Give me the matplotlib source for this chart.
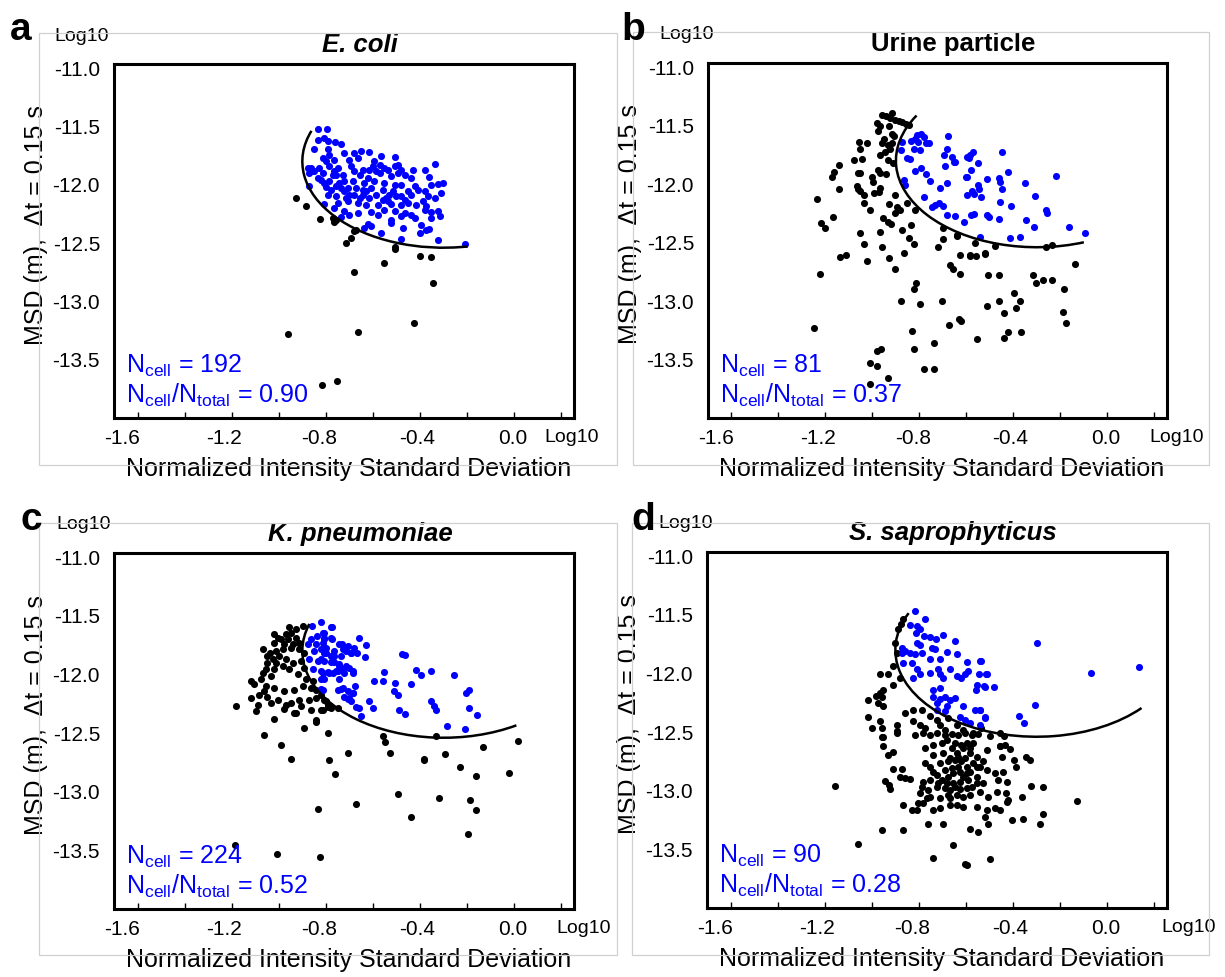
import numpy as np
import matplotlib
matplotlib.use("Agg")
import matplotlib.pyplot as plt
from matplotlib.patches import Arc, Rectangle

plt.rcParams['font.family'] = ['Liberation Sans', 'DejaVu Sans']
plt.rcParams['axes.unicode_minus'] = False
plt.rcParams['mathtext.fontset'] = 'custom'
plt.rcParams['mathtext.rm'] = 'Liberation Sans'

# ---- data: (log10 norm. intensity SD, log10 MSD) ----
A_BLUE = [
    (-0.832, -11.520), (-0.795, -11.520), (-0.835, -11.615), (-0.806, -11.600), (-0.792, -11.629),
    (-0.761, -11.635), (-0.735, -11.652), (-0.849, -11.692), (-0.792, -11.692), (-0.785, -11.743),
    (-0.721, -11.729), (-0.679, -11.729), (-0.650, -11.709), (-0.615, -11.720), (-0.813, -11.772),
    (-0.799, -11.800), (-0.764, -11.786), (-0.700, -11.786), (-0.664, -11.772), (-0.565, -11.757),
    (-0.508, -11.766), (-0.863, -11.857), (-0.828, -11.857), (-0.785, -11.843), (-0.750, -11.857),
    (-0.693, -11.843), (-0.679, -11.886), (-0.643, -11.872), (-0.586, -11.886), (-0.537, -11.872),
    (-0.494, -11.829), (-0.480, -11.872), (-0.430, -11.872), (-0.381, -11.872), (-0.338, -11.823),
    (-0.870, -11.900), (-0.813, -11.900), (-0.771, -11.915), (-0.728, -11.915), (-0.657, -11.915),
    (-0.622, -11.943), (-0.572, -11.900), (-0.523, -11.929), (-0.438, -11.943), (-0.360, -11.937),
    (-0.821, -11.957), (-0.785, -11.972), (-0.721, -11.972), (-0.686, -11.972), (-0.636, -11.986),
    (-0.594, -11.972), (-0.551, -11.986), (-0.508, -12.000), (-0.480, -12.000), (-0.423, -12.015),
    (-0.324, -11.995), (-0.303, -11.986), (-0.870, -12.015), (-0.799, -12.023), (-0.757, -12.015),
    (-0.707, -12.029), (-0.672, -12.029), (-0.608, -12.029), (-0.558, -12.043), (-0.516, -12.057),
    (-0.452, -12.057), (-0.381, -12.057), (-0.310, -12.072), (-0.792, -12.086), (-0.757, -12.100),
    (-0.714, -12.115), (-0.679, -12.086), (-0.643, -12.086), (-0.586, -12.086), (-0.544, -12.115),
    (-0.480, -12.100), (-0.438, -12.086), (-0.806, -12.166), (-0.750, -12.157), (-0.707, -12.143),
    (-0.664, -12.157), (-0.629, -12.172), (-0.579, -12.172), (-0.523, -12.166), (-0.480, -12.172),
    (-0.452, -12.157), (-0.388, -12.143), (-0.374, -12.186), (-0.764, -12.200), (-0.721, -12.223),
    (-0.664, -12.243), (-0.608, -12.235), (-0.551, -12.215), (-0.508, -12.229), (-0.466, -12.243),
    (-0.438, -12.257), (-0.381, -12.215), (-0.324, -12.229), (-0.352, -12.235), (-0.735, -12.280),
    (-0.700, -12.263), (-0.579, -12.257), (-0.523, -12.300), (-0.480, -12.272), (-0.423, -12.286),
    (-0.352, -12.286), (-0.317, -12.272), (-0.622, -12.337), (-0.608, -12.357), (-0.523, -12.329),
    (-0.473, -12.372), (-0.395, -12.343), (-0.374, -12.386), (-0.360, -12.377), (-0.636, -12.372),
    (-0.565, -12.415), (-0.402, -12.415), (-0.480, -12.463), (-0.324, -12.472), (-0.208, -12.506),
    (-0.874, -11.857), (-0.863, -11.886), (-0.764, -11.886), (-0.757, -11.915), (-0.594, -11.800),
    (-0.572, -11.829), (-0.551, -11.857), (-0.494, -11.900), (-0.466, -11.915), (-0.643, -12.043),
    (-0.629, -12.057), (-0.558, -12.129), (-0.537, -12.143), (-0.466, -12.129), (-0.416, -12.172),
    (-0.735, -12.029), (-0.721, -12.057), (-0.849, -11.886), (-0.835, -11.943), (-0.806, -11.986),
    (-0.743, -11.986), (-0.778, -12.043), (-0.700, -12.086), (-0.657, -12.115), (-0.615, -12.115),
    (-0.530, -12.086), (-0.501, -12.100), (-0.367, -12.100), (-0.338, -12.115), (-0.409, -12.043),
    (-0.352, -12.000), (-0.508, -11.843), (-0.601, -11.843), (-0.615, -11.872),
]
A_BLACK = [
    (-0.926, -12.114), (-0.885, -12.180), (-0.827, -12.290), (-0.771, -12.286), (-0.766, -12.320),
    (-0.755, -12.300), (-0.714, -12.500), (-0.693, -12.460), (-0.682, -12.400), (-0.673, -12.386),
    (-0.680, -12.750), (-0.554, -12.670), (-0.505, -12.530), (-0.505, -12.550), (-0.399, -12.610),
    (-0.355, -12.620), (-0.347, -12.846), (-0.425, -13.186), (-0.665, -13.263), (-0.962, -13.277),
    (-0.815, -13.714), (-0.752, -13.686),
]

B_BLUE = [
    (-0.810, -11.582), (-0.793, -11.574), (-0.779, -11.597), (-0.817, -11.619), (-0.836, -11.631),
    (-0.807, -11.639), (-0.771, -11.648), (-0.761, -11.653), (-0.822, -11.696), (-0.799, -11.710),
    (-0.874, -11.639), (-0.877, -11.710), (-0.853, -11.773), (-0.841, -11.790), (-0.817, -11.886),
    (-0.793, -11.866), (-0.771, -11.915), (-0.756, -11.974), (-0.782, -12.108), (-0.711, -12.037),
    (-0.683, -11.989), (-0.694, -11.753), (-0.683, -11.696), (-0.662, -11.767), (-0.652, -11.810),
    (-0.690, -11.847), (-0.679, -11.588), (-0.598, -11.767), (-0.598, -11.943), (-0.598, -12.094),
    (-0.867, -11.966), (-0.860, -12.008), (-0.747, -12.193), (-0.732, -12.182), (-0.718, -12.159),
    (-0.700, -12.187), (-0.683, -12.264), (-0.647, -12.273), (-0.612, -12.321), (-0.647, -11.810),
    (-0.583, -11.753), (-0.572, -11.725), (-0.590, -11.781), (-0.550, -11.818), (-0.580, -11.881),
    (-0.600, -11.943), (-0.447, -11.730), (-0.424, -11.895), (-0.512, -11.960), (-0.463, -11.952),
    (-0.458, -11.980), (-0.550, -12.009), (-0.546, -12.046), (-0.576, -12.057), (-0.566, -12.085),
    (-0.538, -12.108), (-0.448, -12.046), (-0.456, -12.151), (-0.409, -12.188), (-0.351, -11.995),
    (-0.308, -12.103), (-0.218, -11.932), (-0.260, -12.222), (-0.257, -12.250), (-0.580, -12.264),
    (-0.566, -12.256), (-0.512, -12.264), (-0.505, -12.284), (-0.463, -12.301), (-0.347, -12.307),
    (-0.314, -12.364), (-0.165, -12.364), (-0.094, -12.421), (-0.413, -12.458), (-0.371, -12.449),
    (-0.543, -12.455),
]
B_BLACK = [
    (-0.959, -11.412), (-0.941, -11.420), (-0.916, -11.392), (-0.924, -11.432), (-0.902, -11.449),
    (-0.888, -11.460), (-0.874, -11.469), (-0.856, -11.483), (-0.846, -11.497), (-0.980, -11.477),
    (-0.966, -11.506), (-0.931, -11.506), (-0.977, -11.545), (-0.916, -11.568), (-0.909, -11.591),
    (-0.952, -11.619), (-0.959, -11.648), (-0.935, -11.668), (-0.916, -11.653), (-0.924, -11.704),
    (-0.945, -11.724), (-0.966, -11.753), (-0.935, -11.795), (-0.912, -11.818), (-1.058, -11.639),
    (-1.023, -11.648), (-1.054, -11.696), (-1.077, -11.795), (-1.044, -11.790), (-1.143, -11.838),
    (-1.164, -11.895), (-1.171, -11.937), (-1.051, -11.903), (-1.062, -11.909), (-0.977, -11.881),
    (-0.966, -11.903), (-0.941, -11.915), (-1.001, -11.943), (-0.997, -11.980), (-1.065, -12.017),
    (-1.062, -12.045), (-1.051, -12.057), (-0.966, -12.037), (-0.973, -12.065), (-0.992, -12.074),
    (-1.143, -12.045), (-1.037, -12.094), (-0.902, -12.094), (-1.235, -12.131), (-1.037, -12.159),
    (-1.009, -12.222), (-0.931, -12.170), (-0.895, -12.193), (-0.884, -12.222), (-0.902, -12.250),
    (-0.853, -12.165), (-0.817, -12.222), (-1.167, -12.284), (-1.221, -12.335), (-1.204, -12.378),
    (-0.955, -12.293), (-0.935, -12.321), (-0.921, -12.341), (-1.051, -12.420), (-0.969, -12.406),
    (-0.874, -12.392), (-0.834, -12.349), (-0.846, -12.463), (-1.037, -12.511), (-0.959, -12.534),
    (-0.824, -12.511), (-0.722, -12.534), (-0.700, -12.472), (-0.640, -12.435), (-1.136, -12.625),
    (-1.111, -12.605), (-1.023, -12.662), (-0.931, -12.633), (-0.867, -12.591), (-0.669, -12.690),
    (-0.626, -12.605), (-0.584, -12.605), (-0.698, -12.378), (-1.224, -12.767), (-1.247, -13.230),
    (-0.878, -12.997), (-0.824, -12.898), (-0.813, -12.847), (-0.796, -13.023), (-0.833, -13.259),
    (-0.824, -13.406), (-0.779, -13.580), (-0.740, -13.580), (-0.740, -13.358), (-0.702, -13.003),
    (-0.673, -13.202), (-0.631, -13.150), (-0.623, -13.173), (-0.656, -12.727), (-0.628, -12.767),
    (-0.556, -13.321), (-0.514, -13.040), (-0.509, -12.781), (-0.463, -12.781), (-0.463, -12.997),
    (-0.438, -13.102), (-0.438, -13.315), (-0.425, -13.264), (-0.396, -12.932), (-0.388, -13.060),
    (-0.371, -12.997), (-0.366, -13.264), (-0.317, -12.776), (-0.304, -12.847), (-0.274, -12.818),
    (-0.237, -12.818), (-0.186, -12.898), (-0.189, -13.097), (-0.178, -13.188), (-0.139, -12.685),
    (-0.979, -13.429), (-0.962, -13.409), (-1.009, -13.528), (-0.979, -13.557), (-1.012, -13.713),
    (-0.933, -13.662), (-0.903, -12.727), (-0.559, -12.611), (-0.522, -12.591), (-0.480, -12.528),
    (-0.642, -12.443), (-0.562, -12.506), (-0.583, -12.614), (-0.519, -12.597), (-0.262, -12.534),
    (-0.237, -12.520),
]

C_BLUE = [
    (-0.821, -11.552), (-0.860, -11.586), (-0.778, -11.592), (-0.806, -11.643), (-0.838, -11.672),
    (-0.863, -11.700), (-0.877, -11.743), (-0.842, -11.743), (-0.806, -11.700), (-0.778, -11.686),
    (-0.743, -11.743), (-0.721, -11.786), (-0.693, -11.815), (-0.852, -11.800), (-0.821, -11.786),
    (-0.799, -11.815), (-0.764, -11.843), (-0.736, -11.843), (-0.870, -11.872), (-0.835, -11.886),
    (-0.806, -11.886), (-0.778, -11.895), (-0.743, -11.915), (-0.714, -11.929), (-0.856, -11.958),
    (-0.821, -11.972), (-0.785, -11.986), (-0.750, -11.972), (-0.721, -11.986), (-0.686, -11.986),
    (-0.806, -12.043), (-0.743, -12.043), (-0.821, -12.123), (-0.736, -12.123), (-0.707, -12.143),
    (-0.700, -12.200), (-0.686, -12.158), (-0.814, -11.643), (-0.774, -11.600), (-0.807, -11.686),
    (-0.814, -11.729), (-0.774, -11.700), (-0.800, -11.772), (-0.807, -11.815), (-0.821, -11.872),
    (-0.778, -11.843), (-0.764, -11.800), (-0.732, -11.743), (-0.729, -11.780), (-0.715, -11.800),
    (-0.707, -11.758), (-0.693, -11.815), (-0.679, -11.772), (-0.669, -11.815), (-0.661, -11.686),
    (-0.629, -11.752), (-0.632, -11.849), (-0.764, -11.895), (-0.743, -11.929), (-0.729, -11.958),
    (-0.757, -11.972), (-0.771, -11.986), (-0.793, -11.980), (-0.814, -11.986), (-0.821, -12.043),
    (-0.700, -11.943), (-0.686, -11.972), (-0.811, -12.135), (-0.750, -12.129), (-0.729, -12.115),
    (-0.722, -12.192), (-0.707, -12.209), (-0.693, -12.229), (-0.683, -12.158), (-0.675, -12.100),
    (-0.672, -12.278), (-0.658, -12.286), (-0.651, -12.358), (-0.618, -12.229), (-0.598, -12.286),
    (-0.594, -12.058), (-0.551, -11.980), (-0.556, -12.052), (-0.505, -12.072), (-0.509, -12.143),
    (-0.495, -12.172), (-0.488, -12.306), (-0.466, -12.335), (-0.476, -11.829), (-0.462, -11.838),
    (-0.438, -12.086), (-0.417, -11.963), (-0.398, -12.009), (-0.353, -11.972), (-0.353, -12.229),
    (-0.339, -12.266), (-0.332, -12.306), (-0.256, -12.009), (-0.204, -12.158), (-0.193, -12.135),
    (-0.193, -12.286), (-0.158, -12.343), (-0.286, -12.443), (-0.211, -12.466),
]
C_BLACK = [
    (-0.899, -11.586), (-0.927, -11.615), (-0.955, -11.600), (-0.948, -11.643), (-0.970, -11.658),
    (-1.019, -11.658), (-0.991, -11.700), (-0.962, -11.700), (-0.927, -11.686), (-0.913, -11.729),
    (-1.022, -11.729), (-1.065, -11.786), (-1.036, -11.815), (-1.012, -11.800), (-0.984, -11.786),
    (-0.948, -11.772), (-0.913, -11.786), (-0.892, -11.815), (-0.998, -11.843), (-0.970, -11.872),
    (-1.026, -11.872), (-1.048, -11.900), (-1.055, -11.958), (-1.019, -11.958), (-0.984, -11.929),
    (-0.941, -11.900), (-0.906, -11.886), (-0.892, -11.943), (-1.119, -12.058), (-1.104, -12.086),
    (-1.076, -12.043), (-1.055, -12.100), (-1.062, -12.143), (-1.019, -12.115), (-0.977, -12.143),
    (-0.934, -12.129), (-0.899, -12.100), (-0.863, -12.115), (-0.842, -12.129), (-0.842, -12.200),
    (-1.119, -12.200), (-1.090, -12.258), (-1.048, -12.192), (-1.005, -12.220), (-0.970, -12.258),
    (-0.977, -12.295), (-0.913, -12.215), (-0.906, -12.266), (-0.927, -12.329), (-0.863, -12.300),
    (-0.821, -12.300), (-0.792, -12.278), (-0.799, -12.229), (-1.182, -12.272), (-1.097, -12.315),
    (-1.019, -12.380), (-0.934, -12.329), (-0.892, -12.458), (-0.842, -12.386), (-0.792, -12.500),
    (-1.062, -12.515), (-0.991, -12.600), (-0.948, -12.723), (-0.785, -12.729), (-0.704, -12.666),
    (-0.821, -12.172), (-0.807, -12.215), (-0.793, -12.258), (-0.814, -12.300), (-0.778, -12.286),
    (-0.750, -12.286), (-0.558, -12.523), (-0.547, -12.580), (-0.526, -12.672), (-0.334, -12.529),
    (-0.385, -12.723), (-0.296, -12.680), (-0.232, -12.786), (-0.133, -12.623), (-0.840, -12.406),
    (-0.760, -12.851), (-0.383, -12.729), (-0.163, -12.866), (-0.024, -12.843), (0.015, -12.571),
    (-0.494, -13.023), (-0.318, -13.057), (-0.187, -13.071), (-0.164, -13.157), (-0.440, -13.214),
    (-0.197, -13.357), (-0.673, -13.109), (-0.833, -13.151), (-1.008, -13.529), (-0.823, -13.557),
    (-1.187, -13.457), (-1.005, -11.686), (-0.977, -11.743), (-0.941, -11.743), (-1.048, -11.843),
    (-1.012, -11.900), (-0.955, -11.958), (-0.920, -12.000), (-0.884, -12.043), (-1.083, -12.172),
    (-1.033, -12.243), (-0.948, -12.243), (-0.870, -12.215), (-0.856, -12.058), (-1.033, -12.015),
    (-1.069, -11.986),
]

D_BLUE = [
    (-0.817, -11.466), (-0.774, -11.538), (-0.838, -11.589), (-0.807, -11.595), (-0.796, -11.623),
    (-0.813, -11.658), (-0.779, -11.681), (-0.753, -11.686), (-0.728, -11.709), (-0.699, -11.675),
    (-0.647, -11.723), (-0.807, -11.738), (-0.796, -11.761), (-0.873, -11.781), (-0.859, -11.809),
    (-0.838, -11.823), (-0.873, -11.829), (-0.817, -11.838), (-0.788, -11.823), (-0.746, -11.781),
    (-0.732, -11.795), (-0.682, -11.818), (-0.640, -11.838), (-0.753, -11.881), (-0.711, -11.881),
    (-0.597, -11.903), (-0.538, -11.895), (-0.831, -11.909), (-0.866, -11.909), (-0.807, -11.966),
    (-0.796, -12.009), (-0.753, -11.995), (-0.718, -11.966), (-0.711, -12.009), (-0.696, -12.038),
    (-0.668, -11.961), (-0.640, -12.023), (-0.619, -12.038), (-0.604, -12.001), (-0.590, -11.981),
    (-0.543, -12.009), (-0.512, -12.009), (-0.824, -12.038), (-0.739, -12.138), (-0.711, -12.123),
    (-0.739, -12.201), (-0.711, -12.218), (-0.689, -12.201), (-0.668, -12.229), (-0.647, -12.209),
    (-0.725, -12.252), (-0.682, -12.281), (-0.611, -12.281), (-0.555, -12.095), (-0.519, -12.115),
    (-0.558, -12.138), (-0.562, -12.309), (-0.541, -12.309), (-0.519, -12.381), (-0.626, -12.372),
    (-0.604, -12.395), (-0.583, -12.423), (-0.725, -12.309), (-0.689, -12.323), (-0.539, -11.894),
    (-0.514, -12.009), (-0.522, -12.109), (-0.480, -12.114), (-0.539, -12.309), (-0.517, -12.371),
    (-0.539, -12.437), (-0.374, -12.366), (-0.354, -12.423), (-0.307, -12.271), (-0.300, -11.737),
    (-0.069, -12.000), (0.133, -11.943),
]
D_BLACK = [
    (-0.958, -12.543), (-0.895, -12.509), (-0.817, -12.523), (-0.781, -12.509), (-0.753, -12.523),
    (-0.725, -12.509), (-0.689, -12.523), (-0.661, -12.514), (-0.633, -12.523), (-0.604, -12.509),
    (-0.576, -12.523), (-0.548, -12.514), (-0.498, -12.531), (-0.456, -12.509), (-0.951, -12.623),
    (-0.930, -12.694), (-0.909, -12.666), (-0.774, -12.637), (-0.739, -12.609), (-0.703, -12.594),
    (-0.661, -12.637), (-0.619, -12.609), (-0.597, -12.594), (-0.569, -12.594), (-0.512, -12.651),
    (-0.456, -12.623), (-0.434, -12.609), (-0.739, -12.694), (-0.696, -12.680), (-0.640, -12.680),
    (-0.583, -12.680), (-0.555, -12.709), (-0.449, -12.709), (-0.774, -12.766), (-0.753, -12.794),
    (-0.711, -12.766), (-0.675, -12.751), (-0.647, -12.737), (-0.619, -12.751), (-0.597, -12.794),
    (-0.569, -12.766), (-0.541, -12.794), (-0.512, -12.823), (-0.477, -12.851), (-0.441, -12.837),
    (-0.909, -12.817), (-0.873, -12.817), (-0.881, -12.880), (-0.859, -12.894), (-0.838, -12.903),
    (-0.944, -12.914), (-0.926, -12.951), (-0.923, -12.989), (-0.781, -12.923), (-0.753, -12.909),
    (-0.725, -12.866), (-0.703, -12.909), (-0.675, -12.880), (-0.654, -12.851), (-0.626, -12.837),
    (-0.597, -12.851), (-0.590, -12.909), (-0.555, -12.880), (-0.526, -12.937), (-0.463, -12.909),
    (-0.427, -12.923), (-0.796, -13.023), (-0.760, -12.994), (-0.725, -12.966), (-0.689, -12.980),
    (-0.668, -12.994), (-0.647, -12.966), (-0.626, -12.989), (-0.597, -12.980), (-0.576, -12.966),
    (-0.541, -13.009), (-0.505, -13.051), (-0.470, -13.009), (-0.427, -13.094), (-0.866, -13.123),
    (-0.831, -13.166), (-0.803, -13.109), (-0.781, -13.103), (-0.753, -13.051), (-0.739, -13.166),
    (-0.711, -13.151), (-0.668, -13.123), (-0.640, -13.123), (-0.611, -13.137), (-0.555, -13.143),
    (-0.512, -13.166), (-0.477, -13.151), (-0.760, -13.280), (-0.696, -13.280), (-0.519, -13.223),
    (-0.505, -13.280), (-0.958, -13.331), (-0.866, -13.331), (-0.583, -13.323), (-0.548, -13.351),
    (-1.058, -13.451), (-0.654, -13.460), (-0.739, -13.571), (-0.604, -13.623), (-0.594, -13.637),
    (-0.498, -13.586), (-1.157, -12.960), (-0.869, -11.532), (-0.878, -11.581), (-0.888, -11.623),
    (-0.902, -11.738), (-0.895, -11.823), (-0.909, -11.938), (-0.966, -12.009), (-0.930, -12.009),
    (-0.881, -12.038), (-0.909, -12.095), (-0.951, -12.138), (-0.966, -12.166), (-0.980, -12.189),
    (-0.958, -12.201), (-1.015, -12.223), (-0.973, -12.252), (-0.951, -12.281), (-0.824, -12.309),
    (-0.788, -12.309), (-0.859, -12.338), (-1.015, -12.372), (-0.966, -12.409), (-0.895, -12.438),
    (-1.001, -12.466), (-0.958, -12.466), (-0.951, -12.538), (-0.895, -12.495), (-0.824, -12.409),
    (-0.796, -12.438), (-0.753, -12.366), (-0.725, -12.395), (-0.711, -12.438), (-0.675, -12.381),
    (-0.774, -12.466), (-0.689, -12.481), (-0.640, -12.438), (-0.611, -12.481), (-0.569, -12.509),
    (-0.534, -12.466), (-0.363, -13.051), (-0.324, -12.960), (-0.274, -12.971), (-0.346, -12.709),
    (-0.329, -12.737), (-0.284, -13.286), (-0.274, -13.200), (-0.357, -13.237), (-0.404, -13.251),
    (-0.127, -13.086), (-0.455, -12.623), (-0.413, -12.646), (-0.438, -12.537), (-0.396, -12.737),
    (-0.388, -12.794), (-0.421, -13.080), (-0.430, -13.023), (-0.455, -13.166), (-0.682, -12.566),
    (-0.647, -12.594), (-0.611, -12.637), (-0.583, -12.637), (-0.668, -12.723), (-0.633, -12.709),
    (-0.604, -12.723), (-0.689, -12.823), (-0.661, -12.809), (-0.633, -12.794), (-0.611, -12.880),
    (-0.583, -12.837), (-0.682, -12.937), (-0.654, -12.937), (-0.626, -12.923), (-0.675, -13.037),
    (-0.640, -13.037), (-0.611, -13.051), (-0.668, -13.066), (-0.583, -13.037), (-0.555, -12.937),
    (-0.555, -12.794), (-0.526, -12.751), (-0.718, -12.937), (-0.739, -12.837), (-0.711, -13.066),
    (-0.767, -13.066), (-0.810, -13.166), (-0.788, -12.966),
]

TITLES = ["E. coli", "Urine particle", "K. pneumoniae", "S. saprophyticus"]
TITLE_STYLE = ["italic", "normal", "italic", "italic"]
LETTERS = ["a", "b", "c", "d"]
N_CELL = [192, 81, 224, 90]
FRACTION = [0.90, 0.37, 0.52, 0.28]
# boundary ellipse (centre x, centre y, width, height) and start/end angle per panel
ELLIPSE = (-0.30, -11.80, 1.20, 1.48)
ARC_ANGLES = [(155, 278), (143, 286), (158, 296), (150, 312)]

XTICKS = [-1.6, -1.4, -1.2, -1.0, -0.8, -0.6, -0.4, -0.2, 0.0, 0.2]
# labels in the source sit a little off their tick marks
XLABEL_POS = [-1.665, -1.231, -0.827, -0.414, -0.006]
XLABELS = ["-1.6", "-1.2", "-0.8", "-0.4", "0.0"]
YTICKS = [-11.0, -11.5, -12.0, -12.5, -13.0, -13.5]

W, H = 1225, 977
fig = plt.figure(figsize=(W / 100, H / 100), dpi=100)

# axes frames in pixels: left, top, right, bottom
frames = [(114, 64, 574, 418), (708, 63, 1167, 418),
          (114, 553, 574, 909), (707, 552, 1167, 908)]
boxes = [(39, 33, 617, 465), (633, 32, 1209, 465),
         (39, 523, 617, 955), (632, 523, 1209, 955)]
letter_pos = [(10, 40), (621, 40), (20, 530), (631, 530)]
log_top_x = [-0.07, -0.046, -0.065, -0.046]
log_right_x = [0.995, 1.022, 1.02, 1.046]

blues = [A_BLUE, B_BLUE, C_BLUE, D_BLUE]
blacks = [A_BLACK, B_BLACK, C_BLACK, D_BLACK]

for i in range(4):
    bl, bt, br, bb = boxes[i]
    fig.patches.append(Rectangle((bl / W, 1 - bb / H), (br - bl) / W, (bb - bt) / H,
                                 transform=fig.transFigure, fill=False,
                                 edgecolor="#d0d0d0", linewidth=0.9))

    l, t, r, b = frames[i]
    ax = fig.add_axes([l / W, 1 - b / H, (r - l) / W, (b - t) / H])

    blk = np.array(blacks[i])
    blu = np.array(blues[i])
    ax.scatter(blk[:, 0], blk[:, 1], s=26, color="black", linewidths=0, zorder=2)
    ax.scatter(blu[:, 0], blu[:, 1], s=26, color="#0000ff", linewidths=0, zorder=3)

    cx, cy, ew, eh = ELLIPSE
    t1, t2 = ARC_ANGLES[i]
    ax.add_patch(Arc((cx, cy), ew, eh, theta1=t1, theta2=t2,
                     color="black", linewidth=1.8, zorder=4))

    ax.set_xlim(-1.70, 0.254)
    ax.set_ylim(-14.0, -10.965)
    ax.xaxis.remove_overlapping_locs = False
    ax.set_xticks(XTICKS)
    ax.set_xticklabels([""] * len(XTICKS))
    ax.set_xticks(XLABEL_POS, minor=True)
    ax.set_xticklabels(XLABELS, minor=True)
    ax.set_yticks(YTICKS)
    ax.set_yticklabels([f"{v:.1f}" for v in YTICKS])
    ax.tick_params(axis="x", which="major", direction="in", length=4, width=1)
    ax.tick_params(axis="x", which="minor", length=0, labelsize=15, pad=8)
    ax.tick_params(axis="y", length=0, labelsize=15, pad=10)
    for sp in ax.spines.values():
        sp.set_linewidth(2.2)

    ax.text(log_right_x[i], -0.055, "Log10", transform=ax.transAxes, fontsize=14,
            ha="center", va="center")
    ax.text(log_top_x[i], 1.079, "Log10", transform=ax.transAxes, fontsize=14,
            ha="center", va="center")
    ax.text(0.535, 1.035, TITLES[i], transform=ax.transAxes, fontsize=18.5,
            fontweight="bold", fontstyle=TITLE_STYLE[i], ha="center", va="baseline")
    ax.text(0.51, -0.143, "Normalized Intensity Standard Deviation", transform=ax.transAxes,
            fontsize=18, ha="center", va="center")
    ax.text(-0.17, 0.545, "MSD (m),  \u0394t = 0.15 s", transform=ax.transAxes,
            fontsize=18, rotation=90, ha="center", va="center")

    ax.text(0.026, 0.127, r"N$_{\mathregular{cell}}$ = %d" % N_CELL[i], transform=ax.transAxes,
            fontsize=18, color="#0000ff", ha="left", va="baseline")
    ax.text(0.026, 0.042,
            r"N$_{\mathregular{cell}}$/N$_{\mathregular{total}}$ = %.2f" % FRACTION[i],
            transform=ax.transAxes, fontsize=18, color="#0000ff", ha="left", va="baseline")

    lx, ly = letter_pos[i]
    fig.text(lx / W, 1 - ly / H, LETTERS[i], fontsize=28, fontweight="bold",
             ha="left", va="baseline")

fig.savefig("out.png", dpi=100)
